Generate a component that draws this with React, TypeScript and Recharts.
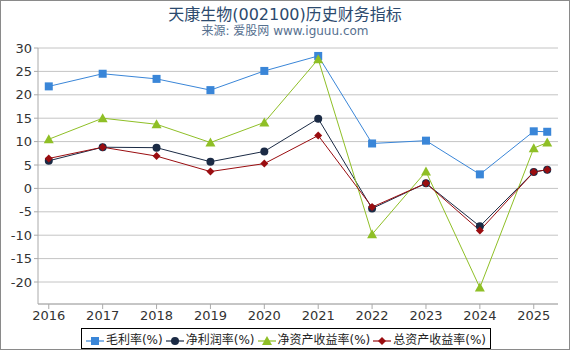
import React from "react";
import { LineChart, Line, XAxis, YAxis, CartesianGrid } from "recharts";

// x = report year (last point is the 2025 Q1 figure)
const years = [2016, 2017, 2018, 2019, 2020, 2021, 2022, 2023, 2024, 2025, 2025.25];
const xTicks = [2016, 2017, 2018, 2019, 2020, 2021, 2022, 2023, 2024, 2025];
const yTicks = [-20, -15, -10, -5, 0, 5, 10, 15, 20, 25, 30];

const grossMargin = [21.8, 24.5, 23.4, 21.0, 25.1, 28.3, 9.6, 10.2, 3.0, 12.2, 12.1];
const netMargin = [5.9, 8.8, 8.7, 5.7, 7.9, 14.9, -4.3, 1.1, -8.1, 3.5, 4.0];
const roe = [10.5, 15.0, 13.7, 9.8, 14.1, 27.6, -9.8, 3.6, -21.2, 8.6, 9.8];
const roa = [6.4, 8.8, 6.9, 3.6, 5.3, 11.3, -4.0, 1.1, -9.0, 3.5, 4.0];

const series = [
  { key: "gross", name: "毛利率(%)", color: "#3a86d8", shape: "square", values: grossMargin },
  { key: "net", name: "净利润率(%)", color: "#1b2b45", shape: "circle", values: netMargin },
  { key: "roe", name: "净资产收益率(%)", color: "#8fbf26", shape: "triangle", values: roe },
  { key: "roa", name: "总资产收益率(%)", color: "#9a0d10", shape: "diamond", values: roa },
];

const data = years.map((year, i) => {
  const row: Record<string, number> = { year };
  series.forEach((s) => (row[s.key] = s.values[i]));
  return row;
});

const FONT = '"DejaVu Sans", "Noto Sans CJK SC", sans-serif';

function Marker({ shape, color, cx, cy }: { shape: string; color: string; cx: number; cy: number }) {
  if (cx == null || cy == null) return null;
  if (shape === "square") return <rect x={cx - 4} y={cy - 4} width={8} height={8} fill={color} />;
  if (shape === "circle") return <circle cx={cx} cy={cy} r={4} fill={color} />;
  if (shape === "triangle")
    return <polygon points={`${cx},${cy - 5} ${cx + 5},${cy + 4} ${cx - 5},${cy + 4}`} fill={color} />;
  return <polygon points={`${cx},${cy - 4} ${cx + 4},${cy} ${cx},${cy + 4} ${cx - 4},${cy}`} fill={color} />;
}

function LegendIcon({ shape, color }: { shape: string; color: string }) {
  return (
    <svg width={18} height={12} style={{ verticalAlign: "middle", marginRight: 2 }}>
      <line x1={0} y1={6} x2={18} y2={6} stroke={color} strokeWidth={2} opacity={0.6} />
      <Marker shape={shape} color={color} cx={9} cy={6} />
    </svg>
  );
}

export default function App() {
  return (
    <div
      style={{
        position: "relative",
        width: 570,
        height: 350,
        boxSizing: "border-box",
        border: "1px solid #8a8a8a",
        background: "#fff",
        fontFamily: FONT,
        overflow: "hidden",
      }}
    >
      <style>{`body{margin:0}`}</style>
      <div style={{ position: "absolute", top: 0, left: 0, width: "100%", textAlign: "center", fontSize: 16, color: "#2c4a6e" }}>
        天康生物(002100)历史财务指标
      </div>
      <div style={{ position: "absolute", top: 20, left: 0, width: "100%", textAlign: "center", fontSize: 12, color: "#56708f" }}>
        来源: 爱股网 www.iguuu.com
      </div>
      <div style={{ position: "absolute", top: -1, left: -1 }}>
        <LineChart width={570} height={350} data={data} margin={{ top: 48, right: 12, bottom: 16, left: 0 }}>
          <CartesianGrid vertical={false} stroke="#c4c4c4" />
          <XAxis
            dataKey="year"
            type="number"
            domain={[2015.8, 2025.45]}
            ticks={xTicks}
            allowDataOverflow
            height={30}
            tickSize={5}
            stroke="#aaa"
            tick={{ fill: "#333", fontSize: 13, fontFamily: FONT }}
          />
          <YAxis
            type="number"
            domain={[-24.7, 30]}
            ticks={yTicks}
            allowDataOverflow
            width={38}
            tickSize={4}
            stroke="#aaa"
            tick={{ fill: "#333", fontSize: 13, fontFamily: FONT }}
          />
          {series.map((s) => (
            <Line
              key={s.key}
              dataKey={s.key}
              name={s.name}
              stroke={s.color}
              strokeWidth={1}
              isAnimationActive={false}
              dot={(p: any) => <Marker key={`${s.key}-${p.index}`} shape={s.shape} color={s.color} cx={p.cx} cy={p.cy} />}
              activeDot={false}
            />
          ))}
        </LineChart>
      </div>
      <div
        style={{
          position: "absolute",
          top: 327,
          left: 80,
          width: 410,
          height: 21,
          boxSizing: "border-box",
          border: "1px solid #000",
          display: "flex",
          alignItems: "center",
          justifyContent: "center",
          gap: 3,
          fontSize: 12,
          color: "#222",
          whiteSpace: "nowrap",
        }}
      >
        {series.map((s) => (
          <span key={s.key}>
            <LegendIcon shape={s.shape} color={s.color} />
            {s.name}
          </span>
        ))}
      </div>
    </div>
  );
}
